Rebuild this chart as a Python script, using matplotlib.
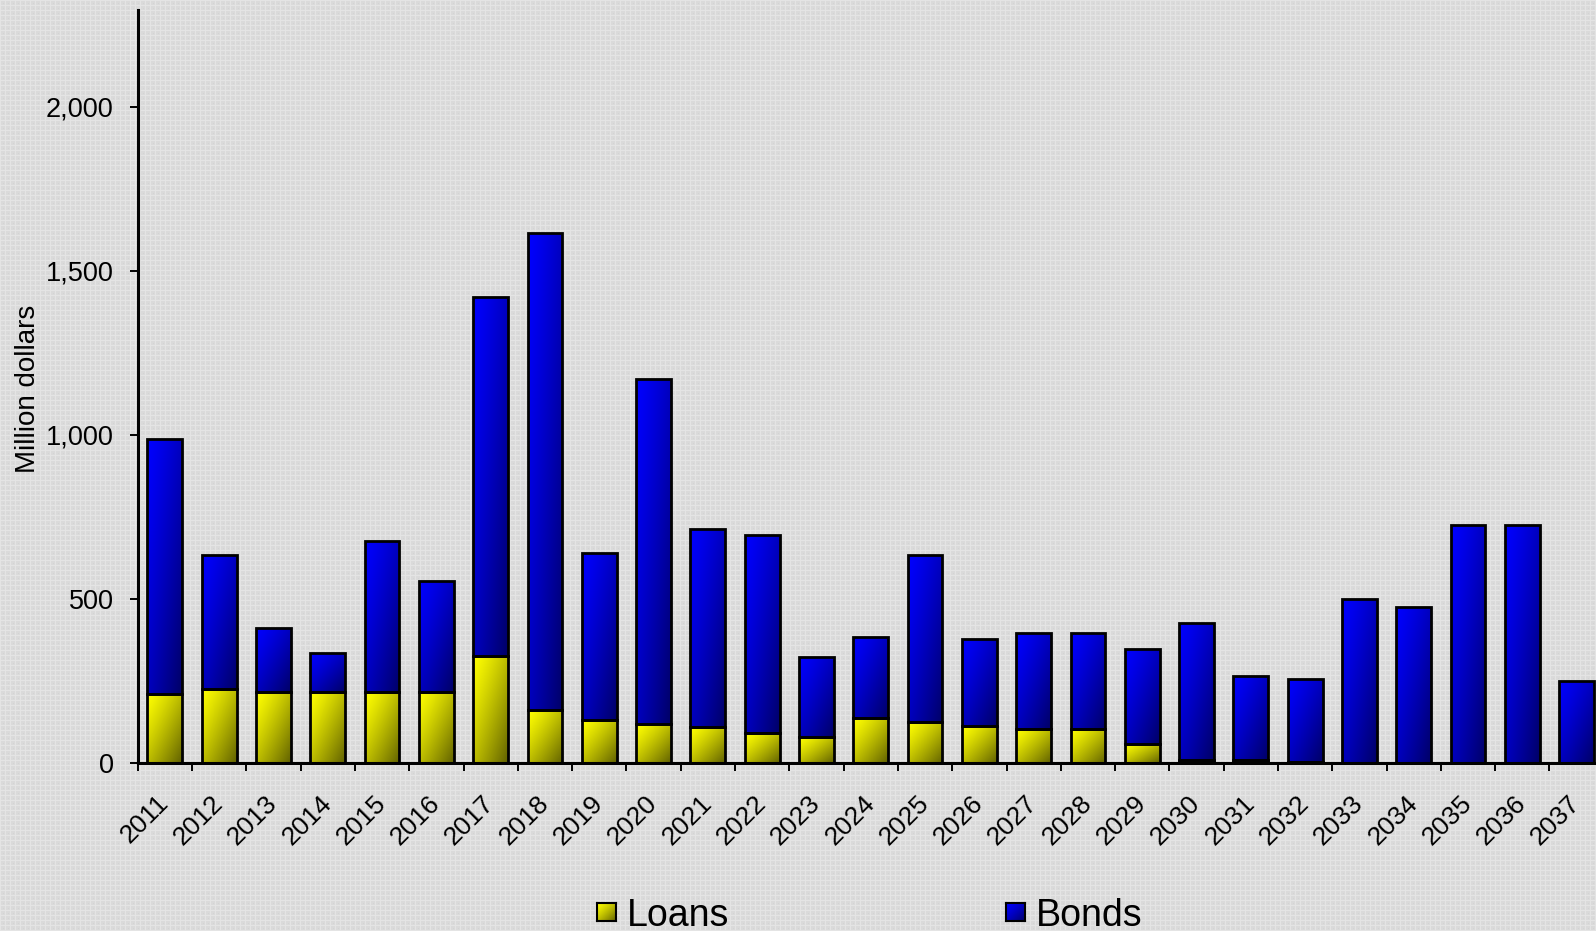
import numpy as np
import matplotlib
matplotlib.use("Agg")
import matplotlib.pyplot as plt
from matplotlib.ticker import FuncFormatter, FixedLocator

# Debt repayment schedule, million dollars
years = [str(y) for y in range(2011, 2038)]
loans = [211, 226, 217, 217, 217, 217, 326, 161, 130, 118, 109, 90, 78,
         136, 124, 112, 105, 105, 59, 9, 9, 3, 0, 0, 0, 0, 0]
bonds = [775, 407, 195, 118, 459, 338, 1094, 1454, 509, 1051, 604, 605, 244,
         248, 509, 266, 292, 292, 288, 419, 255, 254, 499, 474, 726, 726, 251]

YELLOW_LIGHT = np.array([1.0, 1.0, 0.0])
YELLOW_DARK = np.array([0.38, 0.38, 0.0])
BLUE_LIGHT = np.array([0.0, 0.0, 1.0])
BLUE_DARK = np.array([0.0, 0.0, 0.40])

W, H = 1596, 931
plt.rcParams['font.family'] = ['Liberation Sans', 'DejaVu Sans']

fig = plt.figure(figsize=(W / 100, H / 100), dpi=100)
fig.patch.set_facecolor('#dcdcdc')

# fine woven background texture
yy, xx = np.mgrid[0:H, 0:W]
tex = np.full((H, W), 0.855)
tex[(xx % 5 == 0) | (yy % 5 == 0)] = 0.895
tex[((xx + 2) % 5 == 0) & ((yy + 2) % 5 == 0)] = 0.83
fig.figimage(np.dstack([tex, tex, tex]), xo=0, yo=0, zorder=-10)


def gradient_image(c_light, c_dark, n=96):
    # diagonal shading: light at top-left corner, dark at bottom-right
    u = np.linspace(0, 1, n)
    v = np.linspace(0, 1, n)
    U, V = np.meshgrid(u, v)
    t = ((U + V) / 2) ** 1.25
    return c_light * (1 - t)[..., None] + c_dark * t[..., None]


def fill_gradient(ax, bars, c_light, c_dark):
    img = gradient_image(c_light, c_dark)
    for p in bars.patches:
        x0, y0, w, h = p.get_x(), p.get_y(), p.get_width(), p.get_height()
        if h <= 0:
            continue
        im = ax.imshow(img, extent=(x0, x0 + w, y0, y0 + h), origin='upper',
                       aspect='auto', interpolation='bilinear',
                       zorder=p.get_zorder() - 0.5)
        im.set_clip_path(p)


left = 137.7 / W
bottom = 1 - 763 / H
top = 1 - 10 / H
width = 27 * 54.3 / W
ax = fig.add_axes([left, bottom, width, top - bottom])
ax.set_facecolor('none')

x = np.arange(len(years))
bw = 0.64
b_loans = ax.bar(x, loans, width=bw, facecolor='none', edgecolor='black',
                 linewidth=2, zorder=3)
b_bonds = ax.bar(x, bonds, width=bw, bottom=loans, facecolor='none',
                 edgecolor='black', linewidth=2, zorder=3)
fill_gradient(ax, b_loans, YELLOW_LIGHT, YELLOW_DARK)
fill_gradient(ax, b_bonds, BLUE_LIGHT, BLUE_DARK)

ax.set_xlim(-0.5, len(years) - 0.5)
ax.set_ylim(0, 2295)

for s in ['top', 'right']:
    ax.spines[s].set_visible(False)
for s in ['left', 'bottom']:
    ax.spines[s].set_linewidth(2.2)
    ax.spines[s].set_zorder(5)

ax.yaxis.set_major_locator(FixedLocator([0, 500, 1000, 1500, 2000]))
ax.yaxis.set_major_formatter(FuncFormatter(lambda v, _: f"{int(v):,}"))
ax.tick_params(axis='y', length=5.8, width=1.4, pad=11.5, labelsize=19.5,
               colors='black')

ax.set_xticks(x)
ax.set_xticklabels(years, rotation=45, ha='right', va='center',
                   rotation_mode='anchor', fontsize=19)
ax.tick_params(axis='x', which='major', length=0, pad=26)
ax.set_xticks(np.arange(-0.5, len(years), 1.0), minor=True)
ax.tick_params(axis='x', which='minor', length=6, width=1.4)

fig.text(28.5 / W, 1 - 389 / H, 'Million dollars', rotation=90,
         ha='center', va='center', fontsize=20)

# legend drawn with gradient swatches
for (x0, label, cl, cd) in [(597, 'Loans', YELLOW_LIGHT, YELLOW_DARK),
                            (1006, 'Bonds', BLUE_LIGHT, BLUE_DARK)]:
    sw = fig.add_axes([x0 / W, 1 - 921 / H, 19 / W, 18 / H])
    sw.imshow(gradient_image(cl, cd), aspect='auto', interpolation='bilinear',
              extent=(0, 1, 0, 1))
    sw.set_xticks([])
    sw.set_yticks([])
    for s in sw.spines.values():
        s.set_linewidth(1.5)
    fig.text((x0 + 30) / W, 1 - 926 / H, label, ha='left', va='baseline',
             fontsize=27)

fig.savefig('out.png', dpi=100, facecolor=fig.get_facecolor())
